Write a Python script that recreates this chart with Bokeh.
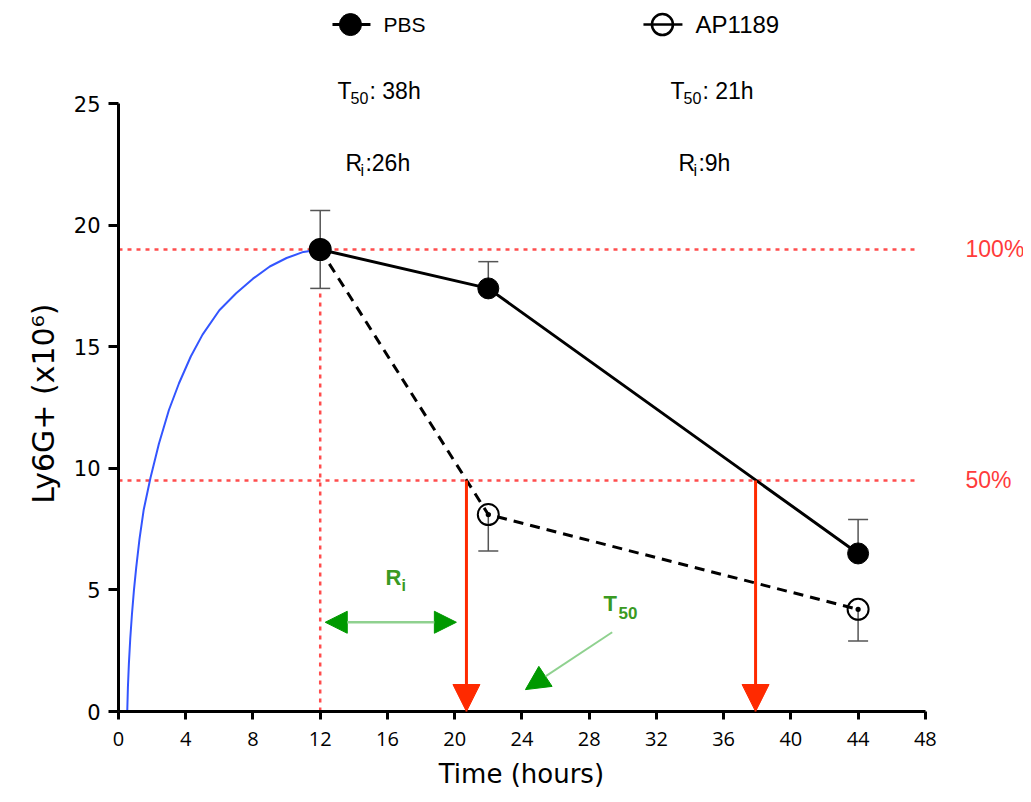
from bokeh.plotting import figure
from bokeh.models import Range1d, Whisker, ColumnDataSource, Arrow, NormalHead, TeeHead, FixedTicker
from bokeh.core.properties import value
from bokeh.embed import file_html
from bokeh.resources import INLINE

# ---- data ----
time_h = [12, 22, 44]
pbs_mean = [19.0, 17.4, 6.5]
pbs_err = [1.6, 1.1, 1.4]
ap_mean = [19.0, 8.1, 4.2]
ap_err = [1.6, 1.5, 1.3]

rise_x = [0.52, 0.56, 0.62, 0.70, 0.80, 0.92, 1.05, 1.25, 1.5, 1.9, 2.4, 3.0, 3.6,
          4.3, 5.0, 6.0, 7.0, 8.0, 9.0, 10.0, 11.0, 12.0]
rise_y = [0.0, 1.0, 2.0, 3.0, 4.0, 5.0, 5.9, 7.1, 8.3, 9.6, 11.0, 12.4, 13.5,
          14.6, 15.5, 16.5, 17.2, 17.8, 18.3, 18.65, 18.9, 19.0]

level_100 = 19.0
level_50 = 9.5
t50_ap = 20.7
t50_pbs = 37.9
peak_time = 12

x_ticks = [0, 4, 8, 12, 16, 20, 24, 28, 32, 36, 40, 44, 48]
y_ticks = [0, 5, 10, 15, 20, 25]

series_names = ["PBS", "AP1189"]
t50_labels = ["38h", "21h"]
ri_labels = ["26h", "9h"]

RED_DOT = "#ff4d4d"
RED = "#ff2a00"
GREEN = "#009900"
GREEN_LIGHT = "#8fd18f"
GREEN_TXT = "#3a9a22"
ARIAL = value("Liberation Sans")
NBSP = "\u00a0"

p = figure(width=1023, height=794, output_backend="svg", toolbar_location=None,
           x_range=Range1d(0, 53.84), y_range=Range1d(0, 29.24),
           min_border_left=118, min_border_bottom=83, min_border_top=0, min_border_right=0)
p.grid.visible = False
p.outline_line_color = None
p.background_fill_color = "white"
p.border_fill_color = "white"

for ax in (p.xaxis[0], p.yaxis[0]):
    ax.axis_line_width = 3
    ax.major_tick_line_width = 3
    ax.major_tick_in = 0
    ax.minor_tick_line_color = None
    ax.major_label_text_color = "black"
    ax.axis_label_text_font_style = "normal"
    ax.axis_label_text_color = "black"
    ax.axis_label_text_font = "DejaVu Sans"

p.xaxis.bounds = (0, 48)
p.yaxis.bounds = (0, 25)
p.xaxis.ticker = FixedTicker(ticks=x_ticks)
p.yaxis.ticker = FixedTicker(ticks=y_ticks)
p.xaxis.major_tick_out = 8
p.yaxis.major_tick_out = 10
p.xaxis.major_label_text_font = "Open Sans"
p.xaxis.major_label_text_font_size = "20px"
p.xaxis.major_label_standoff = 12
p.yaxis.major_label_text_font = "DejaVu Sans"
p.yaxis.major_label_text_font_size = "21px"
p.yaxis.major_label_standoff = 8
# the axis titles are centred on the frame; trailing no-break spaces shift them
# so that they sit centred on the drawn axis extent, as in the reference
p.xaxis.axis_label = "Time (hours)" + NBSP * 12
p.xaxis.axis_label_text_font_size = "26px"
p.xaxis.axis_label_standoff = 10
p.yaxis.axis_label = "Ly6G+ (x10\u2076)" + NBSP * 10
p.yaxis.axis_label_text_font_size = "30px"
p.yaxis.axis_label_standoff = 10

# reference dotted lines
p.line([0, 47.6], [level_100, level_100], line_color=RED_DOT, line_width=2.5, line_dash="4 5")
p.line([0, 47.6], [level_50, level_50], line_color=RED_DOT, line_width=2.5, line_dash="4 5")
p.line([peak_time, peak_time], [0, 17.25], line_color=RED_DOT, line_width=2.5, line_dash="4 5")

# rising phase curve
p.line(rise_x, rise_y, line_color="#3355ff", line_width=2)

# error bars
pbs_src = ColumnDataSource(dict(x=time_h, lower=pbs_mean,
                                upper=[m + e for m, e in zip(pbs_mean, pbs_err)]))
ap_src = ColumnDataSource(dict(x=time_h, upper=ap_mean,
                               lower=[m - e for m, e in zip(ap_mean, ap_err)]))
p.add_layout(Whisker(base="x", upper="upper", lower="lower", source=pbs_src, dimension="height",
                     line_color="#555555", line_width=1.5, lower_head=None,
                     upper_head=TeeHead(size=20, line_color="#555555", line_width=1.5)))
p.add_layout(Whisker(base="x", upper="upper", lower="lower", source=ap_src, dimension="height",
                     line_color="#555555", line_width=1.5, upper_head=None,
                     lower_head=TeeHead(size=20, line_color="#555555", line_width=1.5)))

# series
p.line(time_h, ap_mean, line_color="black", line_width=3, line_dash="10 7")
p.line(time_h, pbs_mean, line_color="black", line_width=3)
p.scatter(time_h, ap_mean, marker="circle_dot", size=21, line_color="black", line_width=2,
          fill_alpha=0)
p.scatter(time_h, pbs_mean, marker="circle", size=21, fill_color="black", line_color="black")

# red T50 arrows
for xt in (t50_ap, t50_pbs):
    p.add_layout(Arrow(x_start=xt, y_start=level_50, x_end=xt, y_end=0, line_color=RED, line_width=3,
                       end=NormalHead(size=27, fill_color=RED, line_color=RED, line_width=1)))

# green annotation arrows
p.add_layout(Arrow(x_start=12.3, y_start=3.67, x_end=20.1, y_end=3.67, line_color=GREEN_LIGHT, line_width=2.5,
                   start=NormalHead(size=22, fill_color=GREEN, line_color=GREEN, line_width=1),
                   end=NormalHead(size=22, fill_color=GREEN, line_color=GREEN, line_width=1)))
p.add_layout(Arrow(x_start=29.37, y_start=3.26, x_end=24.21, y_end=0.9, line_color=GREEN_LIGHT, line_width=2,
                   end=NormalHead(size=24, fill_color=GREEN, line_color=GREEN, line_width=1)))

p.text(x=[15.88], y=[5.5], text=["R"], text_font=ARIAL, text_font_size="22px", text_font_style="bold",
       text_color=GREEN_TXT, text_baseline="middle", text_align="left")
p.text(x=[15.88], y=[5.5], text=["i"], text_font=ARIAL, text_font_size="16px", text_font_style="bold",
       text_color=GREEN_TXT, text_baseline="middle", text_align="left", x_offset=16, y_offset=8)
p.text(x=[28.85], y=[4.44], text=["T"], text_font=ARIAL, text_font_size="22px", text_font_style="bold",
       text_color=GREEN_TXT, text_baseline="middle", text_align="left")
p.text(x=[28.85], y=[4.44], text=["50"], text_font=ARIAL, text_font_size="17px", text_font_style="bold",
       text_color=GREEN_TXT, text_baseline="middle", text_align="left", x_offset=15, y_offset=9)

# percentage labels
p.text(x=[50.39, 50.39], y=[level_100, level_50], text=["100%", "50%"], text_font=ARIAL,
       text_font_size="23px", text_color="#ff3b3b", text_baseline="middle", text_align="left")

# legend (manual)
leg_y = 28.25
p.line([12.73, 14.99], [leg_y, leg_y], line_color="black", line_width=3)
p.scatter([13.8], [leg_y], marker="circle", size=22, fill_color="black", line_color="black")
p.scatter([32.36], [leg_y], marker="circle", size=21, fill_color="white", line_color="black", line_width=2.5)
p.line([31.23, 33.55], [leg_y, leg_y], line_color="black", line_width=2.5)
p.text(x=[15.76], y=[leg_y], text=series_names[:1], text_font=ARIAL, text_font_size="21px",
       text_color="black", text_baseline="middle", text_align="left")
p.text(x=[34.33], y=[leg_y], text=series_names[1:], text_font=ARIAL, text_font_size="24px",
       text_color="black", text_baseline="middle", text_align="left")

# T50 / Ri summary texts
t_y = 25.53
r_y = 22.57
t_x = [13.03, 32.84]
r_x = [13.5, 33.31]
p.text(x=t_x, y=[t_y, t_y], text=["T", "T"], text_font=ARIAL, text_font_size="23px",
       text_baseline="middle", text_align="left")
p.text(x=t_x, y=[t_y, t_y], text=["50", "50"], text_font=ARIAL, text_font_size="16px",
       text_baseline="middle", text_align="left", x_offset=13, y_offset=7)
p.text(x=t_x, y=[t_y, t_y], text=[": " + s for s in t50_labels], text_font=ARIAL, text_font_size="23px",
       text_baseline="middle", text_align="left", x_offset=32)
p.text(x=r_x, y=[r_y, r_y], text=["R", "R"], text_font=ARIAL, text_font_size="23px",
       text_baseline="middle", text_align="left")
p.text(x=r_x, y=[r_y, r_y], text=["i", "i"], text_font=ARIAL, text_font_size="16px",
       text_baseline="middle", text_align="left", x_offset=15, y_offset=8)
p.text(x=r_x, y=[r_y, r_y], text=[":" + s for s in ri_labels], text_font=ARIAL, text_font_size="23px",
       text_baseline="middle", text_align="left", x_offset=20)

open("out.html", "w").write(file_html(p, INLINE))
